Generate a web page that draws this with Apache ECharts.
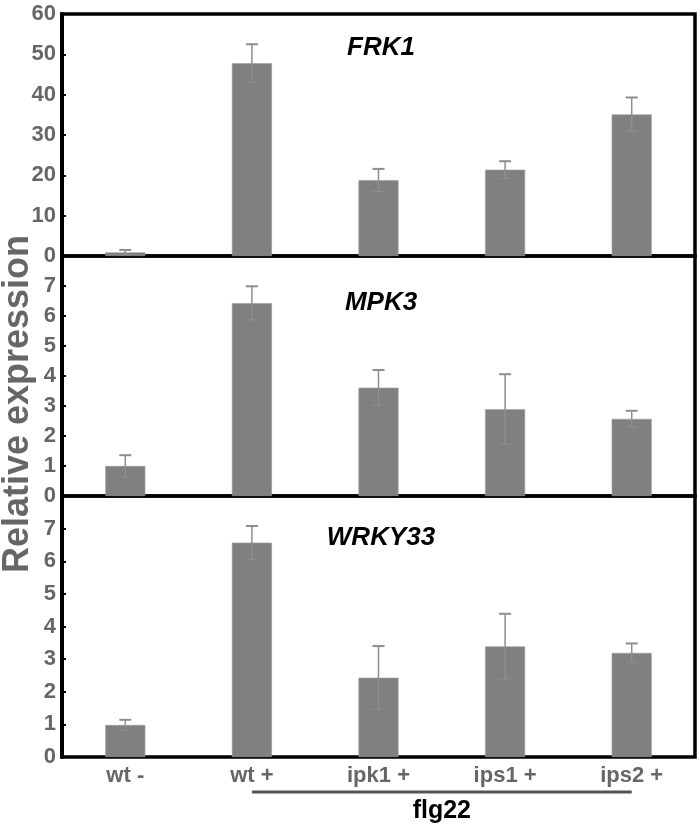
<!DOCTYPE html>
<html>
<head>
<meta charset="utf-8">
<script src="https://cdn.jsdelivr.net/npm/echarts@6/dist/echarts.min.js"></script>
<style>html,body{margin:0;padding:0;background:#fff;}#main{width:700px;height:828px;}</style>
</head>
<body>
<div id="main"></div>
<script>
const categories = ['wt -', 'wt +', 'ipk1 +', 'ips1 +', 'ips2 +'];
const genes = ['FRK1', 'MPK3', 'WRKY33'];
const frk1 = [0.9, 47.8, 18.8, 21.4, 35.1];
const frk1Err = [0.6, 4.7, 2.8, 2.1, 4.2];
const mpk3 = [1.0, 6.43, 3.61, 2.89, 2.57];
const mpk3Err = [0.36, 0.56, 0.59, 1.17, 0.27];
const wrky33 = [0.98, 6.57, 2.43, 3.39, 3.19];
const wrky33Err = [0.16, 0.51, 0.97, 1.0, 0.29];
const yMax = [60, 8, 8];
const yInterval = [10, 1, 1];
const treatmentLabel = 'flg22';
const yTitle = 'Relative expression';

const values = [frk1, mpk3, wrky33];
const errs = [frk1Err, mpk3Err, wrky33Err];

const FONT = "'Liberation Sans', Arial, sans-serif";
const BAR = '#7f8082';
const ERR = '#8e8e8e';
const LABEL = '#666666';

const grids = [
  {left: 62, right: 5, top: 14, height: 242},
  {left: 62, right: 5, top: 256, height: 240},
  {left: 62, right: 5, top: 496, height: 261}
].map(g => Object.assign(g, {show: true, borderColor: '#000', borderWidth: 3.5, backgroundColor: 'transparent', containLabel: false}));

const xAxes = [0, 1, 2].map(i => ({
  type: 'category', gridIndex: i, data: categories,
  axisLine: {show: false}, axisTick: {show: false},
  axisLabel: {show: i === 2, color: LABEL, fontWeight: 'bold', fontSize: 22, fontFamily: FONT, margin: 8}
}));

const yAxes = [0, 1, 2].map(i => ({
  type: 'value', gridIndex: i, min: 0, max: yMax[i], interval: yInterval[i],
  splitLine: {show: false},
  axisLine: {show: true, lineStyle: {color: '#000', width: 4}},
  axisTick: {show: true, inside: true, length: 4, lineStyle: {color: '#000', width: 2}},
  axisLabel: {
    color: LABEL, fontWeight: 'bold', fontSize: 22, fontFamily: FONT, margin: 6,
    formatter: v => (i > 0 && v === yMax[i]) ? '' : String(v)
  }
}));

const series = [];
[0, 1, 2].forEach(i => {
  series.push({
    type: 'bar', xAxisIndex: i, yAxisIndex: i, data: values[i], barWidth: 40,
    itemStyle: {color: BAR, borderColor: '#9a9a9c', borderWidth: 0.6}, silent: true, z: 2
  });
  series.push({
    type: 'custom', xAxisIndex: i, yAxisIndex: i, z: 3, silent: true,
    data: values[i].map((v, k) => [k, v, errs[i][k]]),
    renderItem: (params, api) => {
      const x = api.value(0), v = api.value(1), e = api.value(2);
      const top = api.coord([x, v + e]);
      const bot = api.coord([x, v - e]);
      const hw = 6;
      return {
        type: 'group',
        children: [
          {type: 'line', shape: {x1: top[0], y1: top[1], x2: bot[0], y2: bot[1]}, style: {stroke: ERR, lineWidth: 1.5}},
          {type: 'line', shape: {x1: top[0] - hw, y1: top[1], x2: top[0] + hw, y2: top[1]}, style: {stroke: ERR, lineWidth: 2}},
          {type: 'line', shape: {x1: bot[0] - hw, y1: bot[1], x2: bot[0] + hw, y2: bot[1]}, style: {stroke: ERR, lineWidth: 1}}
        ]
      };
    }
  });
});

const chart = echarts.init(document.getElementById('main'), null, {renderer: 'canvas'});
chart.setOption({
  backgroundColor: '#fff',
  animation: false,
  grid: grids,
  xAxis: xAxes,
  yAxis: yAxes,
  series: series
});

// annotations positioned from the axes
const titleY = [48, 303, 538];
const graphics = genes.map((g, i) => ({
  type: 'text', x: 381, y: titleY[i],
  style: {text: g, font: "italic bold 26px " + FONT, fill: '#000', textAlign: 'center', textVerticalAlign: 'middle'}
}));
const p1 = chart.convertToPixel({xAxisIndex: 2}, categories[1]);
const p2 = chart.convertToPixel({xAxisIndex: 2}, categories[4]);
const lineY = 792;
graphics.push({type: 'line', shape: {x1: p1, y1: lineY, x2: p2, y2: lineY}, style: {stroke: '#555', lineWidth: 3}});
graphics.push({type: 'text', x: (p1 + p2) / 2, y: 811,
  style: {text: treatmentLabel, font: "bold 25px " + FONT, fill: '#000', textAlign: 'center', textVerticalAlign: 'middle'}});
graphics.push({type: 'text', x: 18, y: 404, rotation: Math.PI / 2,
  style: {text: yTitle, font: "bold 36px " + FONT, fill: LABEL, textAlign: 'center', textVerticalAlign: 'middle'}});
chart.setOption({graphic: graphics});
</script>
</body>
</html>
